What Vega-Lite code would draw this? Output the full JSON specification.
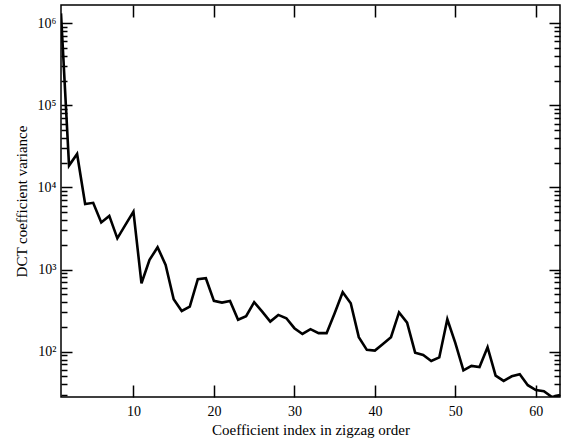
{
  "$schema": "https://vega.github.io/schema/vega-lite/v6.json",
  "autosize": {"type": "none"},
  "padding": {"left": 61, "top": 5, "right": 2, "bottom": 48},
  "width": 499,
  "height": 392,
  "background": "white",
  "config": {
    "view": {"stroke": "#000", "strokeWidth": 1.5},
    "axis": {
      "domain": false,
      "grid": false,
      "tickColor": "#000",
      "tickWidth": 1.5,
      "labelColor": "#000",
      "titleColor": "#000",
      "labelFont": "Liberation Serif",
      "titleFont": "Liberation Serif",
      "labelFontSize": 14,
      "titleFontSize": 15,
      "titleFontWeight": "normal"
    }
  },
  "data": {
    "values": [
      {"i": 1, "v": 1320000}, {"i": 2, "v": 18500}, {"i": 3, "v": 25600}, {"i": 4, "v": 6300},
      {"i": 5, "v": 6500}, {"i": 6, "v": 3750}, {"i": 7, "v": 4500}, {"i": 8, "v": 2400},
      {"i": 9, "v": 3500}, {"i": 10, "v": 5070}, {"i": 11, "v": 680}, {"i": 12, "v": 1310},
      {"i": 13, "v": 1870}, {"i": 14, "v": 1140}, {"i": 15, "v": 434}, {"i": 16, "v": 313},
      {"i": 17, "v": 353}, {"i": 18, "v": 762}, {"i": 19, "v": 783}, {"i": 20, "v": 415},
      {"i": 21, "v": 396}, {"i": 22, "v": 415}, {"i": 23, "v": 245}, {"i": 24, "v": 270},
      {"i": 25, "v": 400}, {"i": 26, "v": 307}, {"i": 27, "v": 232}, {"i": 28, "v": 280},
      {"i": 29, "v": 255}, {"i": 30, "v": 193}, {"i": 31, "v": 164}, {"i": 32, "v": 188},
      {"i": 33, "v": 168}, {"i": 34, "v": 168}, {"i": 35, "v": 294}, {"i": 36, "v": 529},
      {"i": 37, "v": 389}, {"i": 38, "v": 150}, {"i": 39, "v": 105}, {"i": 40, "v": 103},
      {"i": 41, "v": 124}, {"i": 42, "v": 150}, {"i": 43, "v": 300}, {"i": 44, "v": 225},
      {"i": 45, "v": 97}, {"i": 46, "v": 91}, {"i": 47, "v": 77}, {"i": 48, "v": 85},
      {"i": 49, "v": 248}, {"i": 50, "v": 127}, {"i": 51, "v": 59}, {"i": 52, "v": 67},
      {"i": 53, "v": 65}, {"i": 54, "v": 113}, {"i": 55, "v": 51}, {"i": 56, "v": 44},
      {"i": 57, "v": 50}, {"i": 58, "v": 53}, {"i": 59, "v": 39}, {"i": 60, "v": 34},
      {"i": 61, "v": 33}, {"i": 62, "v": 28}, {"i": 63, "v": 29.5}
    ]
  },
  "layer": [
    {
      "mark": {"type": "line", "opacity": 0, "clip": true},
      "encoding": {
        "x": {"field": "i", "type": "quantitative", "scale": {"domain": [1, 63], "nice": false, "zero": false},
              "axis": {"orient": "top", "values": [10, 20, 30, 40, 50, 60], "labels": false, "title": null, "tickSize": -12}},
        "y": {"field": "v", "type": "quantitative", "scale": {"type": "log", "domain": [28, 1670000], "nice": false},
              "axis": {"orient": "right", "values": [100, 1000, 10000, 100000, 1000000], "labels": false, "title": null, "tickSize": -11}}
      }
    },
    {
      "mark": {"type": "line", "opacity": 0, "clip": true},
      "encoding": {
        "x": {"field": "i", "type": "quantitative", "axis": null},
        "y": {"field": "v", "type": "quantitative",
              "axis": {"orient": "left", "labels": false, "title": null, "tickSize": -6,
                       "values": [30, 40, 50, 60, 70, 80, 90, 200, 300, 400, 500, 600, 700, 800, 900, 2000, 3000, 4000, 5000, 6000, 7000, 8000, 9000, 20000, 30000, 40000, 50000, 60000, 70000, 80000, 90000, 200000, 300000, 400000, 500000, 600000, 700000, 800000, 900000]}}
      }
    },
    {
      "mark": {"type": "line", "opacity": 0, "clip": true},
      "encoding": {
        "x": {"field": "i", "type": "quantitative", "axis": null},
        "y": {"field": "v", "type": "quantitative",
              "axis": {"orient": "right", "labels": false, "title": null, "tickSize": -6,
                       "values": [30, 40, 50, 60, 70, 80, 90, 200, 300, 400, 500, 600, 700, 800, 900, 2000, 3000, 4000, 5000, 6000, 7000, 8000, 9000, 20000, 30000, 40000, 50000, 60000, 70000, 80000, 90000, 200000, 300000, 400000, 500000, 600000, 700000, 800000, 900000]}}
      }
    },
    {
      "mark": {"type": "line", "color": "#000", "strokeWidth": 2.6, "clip": true},
      "encoding": {
        "x": {"field": "i", "type": "quantitative",
              "axis": {"orient": "bottom", "values": [10, 20, 30, 40, 50, 60], "tickSize": -12, "labelPadding": 19,
                       "title": "Coefficient index in zigzag order", "titlePadding": 4}},
        "y": {"field": "v", "type": "quantitative",
              "axis": {"orient": "left", "values": [100, 1000, 10000, 100000, 1000000], "tickSize": -11, "labelPadding": 16,
                       "labelExpr": "datum.value == 100 ? '10²' : datum.value == 1000 ? '10³' : datum.value == 10000 ? '10⁴' : datum.value == 100000 ? '10⁵' : '10⁶'",
                       "title": "DCT coefficient variance", "titlePadding": 8}}
      }
    }
  ],
  "resolve": {"axis": {"x": "independent", "y": "independent"}}
}
